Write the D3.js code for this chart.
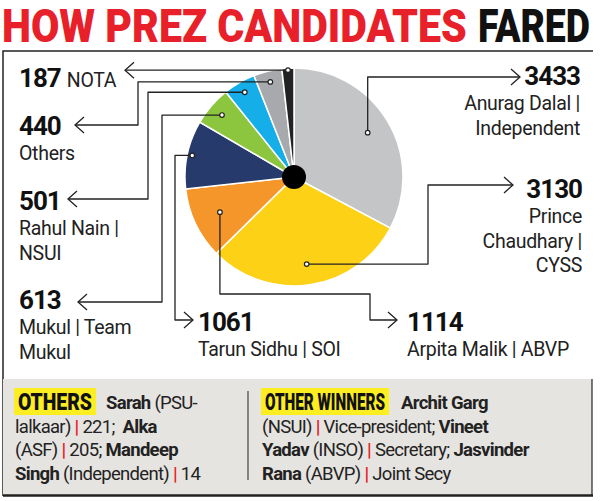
<!DOCTYPE html>
<html>
<head>
<meta charset="utf-8">
<script src="https://cdn.jsdelivr.net/npm/d3@7"></script>
<style>
  body { margin: 0; background: #fff; }
  text { font-family: Roboto, "Liberation Sans", sans-serif; }
  .num { font-weight: bold; font-size: 26px; letter-spacing: -1px; fill: #111; }
  .lbl { font-size: 19.5px; fill: #222; letter-spacing: -0.3px; }
  .note { font-size: 18.5px; fill: #222; letter-spacing: -0.7px; }
  .head { font-weight: 900; font-size: 23px; fill: #111; }
</style>
</head>
<body>
<div id="chart"></div>
<script>
// vote counts, clockwise from 12 o'clock
const candidates = ["Anurag Dalal", "Prince Chaudhary", "Arpita Malik", "Tarun Sidhu", "Mukul", "Rahul Nain", "Others", "NOTA"];
const votes = [3433, 3130, 1114, 1061, 613, 501, 440, 187];
const colors = ["#c4c5c7", "#fcd116", "#f5962a", "#263a6b", "#8cc63f", "#16aee8", "#a7a9ac", "#222222"];
const labelLines = [
  ["Anurag Dalal |", "Independent"],
  ["Prince", "Chaudhary |", "CYSS"],
  ["Arpita Malik | ABVP"],
  ["Tarun Sidhu | SOI"],
  ["Mukul | Team", "Mukul"],
  ["Rahul Nain |", "NSUI"],
  ["Others"],
  ["NOTA"]
];

const width = 600, height = 501;
const cx = 294, cy = 177, r = 109;

const svg = d3.select("#chart").append("svg")
  .attr("width", width).attr("height", height);

// squeeze a text horizontally so it spans w pixels
function fitText(sel, x, y, w) {
  const len = sel.node().getComputedTextLength();
  sel.attr("transform", `translate(${x},${y}) scale(${w / len},1)`);
  return sel;
}

// title
fitText(svg.append("text").attr("fill", "#e8202a")
  .style("font-weight", "900").style("font-size", "46px")
  .text("HOW PREZ CANDIDATES"), 2, 42, 465);
fitText(svg.append("text").attr("fill", "#111")
  .style("font-weight", "900").style("font-size", "46px")
  .text("FARED"), 478, 42, 112);

// frame
svg.append("path").attr("d", "M3,496 V51 H593").attr("fill", "none").attr("stroke", "#222").attr("stroke-width", 1.5);

// pie
const pie = d3.pie().sort(null).value(d => d)(votes);
const arc = d3.arc().innerRadius(0).outerRadius(r);
const g = svg.append("g").attr("transform", `translate(${cx},${cy})`);
g.selectAll("path.slice").data(pie).enter().append("path")
  .attr("class", "slice")
  .attr("d", arc)
  .attr("fill", (d, i) => colors[i])
  .attr("stroke", "#fff").attr("stroke-width", 1.5);
g.append("circle").attr("r", 12).attr("fill", "#000");

// leaders: anchor radius per slice, then route to label
const anchorR = [86, 88, 82, 104, 95, 98, 98, 107];
function anchor(i) {
  const a = (pie[i].startAngle + pie[i].endAngle) / 2;
  return [cx + anchorR[i] * Math.sin(a), cy - anchorR[i] * Math.cos(a)];
}
const routes = [
  p => [[p[0], 77], [520, 77]],
  p => [[428, p[1]], [428, 185], [513, 185]],
  p => [[p[0], 294], [370, 294], [370, 320], [397, 320]],
  p => [[175, p[1]], [175, 320], [193, 320]],
  p => [[162, p[1]], [162, 302], [78, 302]],
  p => [[148, p[1]], [148, 199], [68, 199]],
  p => [[138, p[1]], [138, 125], [75, 125]],
  p => [[125, p[1]]]
];
const line = d3.line().curve(d3.curveLinear);
votes.forEach((v, i) => {
  const p = anchor(i);
  const pts = [p].concat(routes[i](p));
  svg.append("path").attr("d", line(pts)).attr("fill", "none")
    .attr("stroke", "#222").attr("stroke-width", 1.3).attr("stroke-linejoin", "round");
  svg.append("circle").attr("cx", p[0]).attr("cy", p[1]).attr("r", 2.3)
    .attr("fill", "#fff").attr("stroke", "#222").attr("stroke-width", 1.2);
  const e = pts[pts.length - 1], f = pts[pts.length - 2];
  const dir = e[0] > f[0] ? 1 : -1;
  svg.append("path")
    .attr("d", `M${e[0] - dir * 9},${e[1] - 8} L${e[0]},${e[1]} L${e[0] - dir * 9},${e[1] + 8}`)
    .attr("fill", "none").attr("stroke", "#222").attr("stroke-width", 1.3);
});

// labels: [x, numberBaseline, anchor]
const labelPos = [
  [580, 85, "end"], [582, 198, "end"], [407, 331, "start"], [198, 331, "start"],
  [19, 309, "start"], [19, 210, "start"], [19, 135, "start"], [19, 87, "start"]
];
votes.forEach((v, i) => {
  const [x, y, ta] = labelPos[i];
  if (i === 7) {
    const t = svg.append("text").attr("x", x).attr("y", y);
    t.append("tspan").attr("class", "num").text(v);
    t.append("tspan").attr("class", "lbl").attr("dx", 6).text(labelLines[i][0]);
    return;
  }
  svg.append("text").attr("class", "num").attr("x", x).attr("y", y).attr("text-anchor", ta).text(v);
  labelLines[i].forEach((s, k) => {
    svg.append("text").attr("class", "lbl").attr("x", x).attr("y", y + 25 + k * 24.5)
      .attr("text-anchor", ta).text(s);
  });
});

// bottom notes box
svg.append("rect").attr("x", 3).attr("y", 379).attr("width", 589).attr("height", 116).attr("fill", "#e6e4e0");
svg.append("line").attr("x1", 592).attr("x2", 592).attr("y1", 379).attr("y2", 496).attr("stroke", "#222").attr("stroke-width", 1.2);
svg.append("line").attr("x1", 3).attr("x2", 593).attr("y1", 495.5).attr("y2", 495.5).attr("stroke", "#222").attr("stroke-width", 2.5);
svg.append("line").attr("x1", 248).attr("x2", 248).attr("y1", 391).attr("y2", 480).attr("stroke", "#444").attr("stroke-width", 1.2);

// headings: [text, x, width]
const headings = [["OTHERS", 18, 74], ["OTHER WINNERS", 265, 120]];
headings.forEach(([s, x, w]) => {
  svg.append("rect").attr("x", x - 4).attr("y", 388).attr("width", w + 8).attr("height", 27).attr("fill", "#fcee21");
  fitText(svg.append("text").attr("class", "head").text(s), x, 410, w);
});

// segments: [text, style] where b=bold, r=red bar; first row starts after heading
const leftNotes = [
  [["Sarah", "b"], [" (PSU-", ""]],
  [["lalkaar) ", ""], ["|", "r"], [" 221;  ", ""], ["Alka", "b"]],
  [["(ASF) ", ""], ["|", "r"], [" 205; ", ""], ["Mandeep", "b"]],
  [["Singh", "b"], [" (Independent) ", ""], ["|", "r"], [" 14", ""]]
];
const rightNotes = [
  [["Archit Garg", "b"]],
  [["(NSUI) ", ""], ["|", "r"], [" Vice-president; ", ""], ["Vineet", "b"]],
  [["Yadav", "b"], [" (INSO) ", ""], ["|", "r"], [" Secretary; ", ""], ["Jasvinder", "b"]],
  [["Rana", "b"], [" (ABVP) ", ""], ["|", "r"], [" Joint Secy", ""]]
];
function notes(rows, x, firstX) {
  rows.forEach((row, k) => {
    const t = svg.append("text").attr("class", "note").attr("x", k === 0 ? firstX : x).attr("y", 409 + k * 23.7)
      .attr("xml:space", "preserve");
    row.forEach(([s, st]) => {
      const ts = t.append("tspan").text(s);
      if (st === "b") ts.style("font-weight", "bold");
      if (st === "r") ts.attr("fill", "#e8202a").style("font-weight", "bold");
    });
  });
}
notes(leftNotes, 15, 106);
notes(rightNotes, 262, 401);
</script>
</body>
</html>
